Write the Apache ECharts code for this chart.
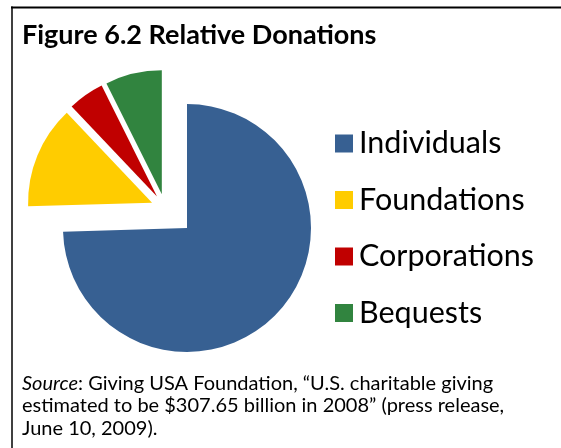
<!DOCTYPE html>
<html>
<head>
<meta charset="utf-8">
<script src="https://cdn.jsdelivr.net/npm/echarts@6/dist/echarts.min.js"></script>
<style>
html,body{margin:0;padding:0;background:#fff;}
#c{width:561px;height:448px;}
</style>
</head>
<body>
<div id="c"></div>
<script>
// Data (billions of dollars, 2008)
const categories = ['Individuals', 'Foundations', 'Corporations', 'Bequests'];
const values = [229.28, 41.21, 14.50, 22.66];
const colors = ['#376092', '#FFCC00', '#C00000', '#31843F'];
const exploded = [false, true, true, true];
const titleText = 'Figure 6.2 Relative Donations';
const sourceLines = [
  '{i|Source}: Giving USA Foundation, \u201CU.S. charitable giving',
  'estimated to be $307.65 billion in 2008\u201D (press release,',
  'June 10, 2009).'
];

const FONT = 'Lato, "Open Sans", sans-serif';

function seriesData(showExploded) {
  return categories.map((name, i) => ({
    name: name,
    value: values[i],
    selected: showExploded && exploded[i],
    itemStyle: {
      color: (exploded[i] === showExploded) ? colors[i] : 'rgba(0,0,0,0)',
      borderWidth: 0
    }
  }));
}

const chart = echarts.init(document.getElementById('c'), null, {renderer: 'canvas'});
chart.setOption({
  animation: false,
  backgroundColor: '#fff',
  legend: {
    orient: 'vertical',
    left: 330,
    top: 123,
    itemWidth: 18,
    itemHeight: 18,
    itemGap: 25.5,
    icon: 'rect',
    selectedMode: false,
    textStyle: {fontFamily: FONT, fontSize: 30.5, color: '#000', lineHeight: 30, padding: [0,0,0,1]},
    data: categories.map((n, i) => ({name: n, itemStyle: {color: colors[i]}}))
  },
  series: [
    {
      type: 'pie',
      center: [187, 228],
      radius: [0, 124],
      startAngle: 90,
      clockwise: true,
      label: {show: false},
      labelLine: {show: false},
      emphasis: {disabled: true},
      silent: true,
      data: seriesData(false)
    },
    {
      type: 'pie',
      center: [165, 208],
      radius: [0, 124],
      startAngle: 90,
      clockwise: true,
      selectedMode: 'multiple',
      selectedOffset: 14,
      label: {show: false},
      labelLine: {show: false},
      emphasis: {disabled: true},
      silent: true,
      data: seriesData(true)
    }
  ],
  graphic: [
    {type: 'line', shape: {x1: 11, y1: 7.5, x2: 561, y2: 7.5}, style: {stroke: '#000', lineWidth: 2.2}},
    {type: 'line', shape: {x1: 12, y1: 6.5, x2: 12, y2: 448}, style: {stroke: '#000', lineWidth: 1.5}},
    {type: 'text', left: 22, top: 22, style: {text: titleText, font: 'bold 27px ' + FONT, fill: '#000'}},
    {type: 'text', left: 22, top: 372, style: {
      text: sourceLines.join('\n'),
      font: '20px ' + FONT,
      lineHeight: 22.5,
      fill: '#000',
      rich: {i: {fontStyle: 'italic', fontFamily: FONT, fontSize: 20, lineHeight: 22.5}}
    }}
  ]
});
</script>
</body>
</html>
